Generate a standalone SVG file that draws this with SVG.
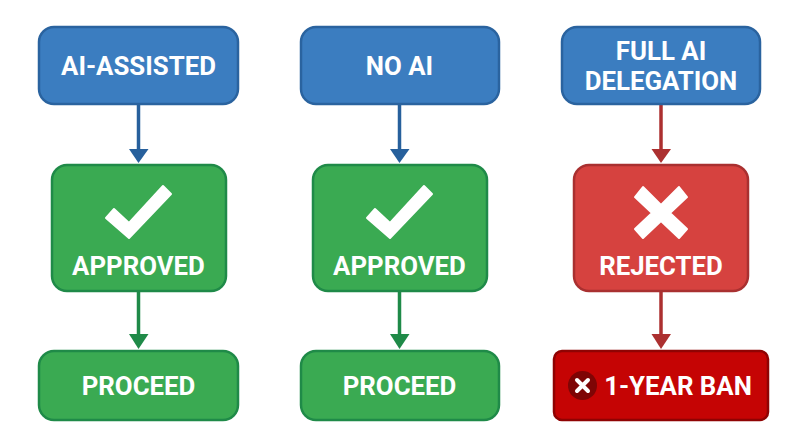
<svg xmlns="http://www.w3.org/2000/svg" width="800" height="447" viewBox="0 0 800 447">
<style>
.box{stroke-width:2.5}
.blue{fill:#3b7dc0;stroke:#2a639f}
.green{fill:#3aaa52;stroke:#1f8a48}
.red{fill:#d6423f;stroke:#a93030}
.ban{fill:#c50404;stroke:#8f0303}
text{font-family:Roboto,"Liberation Sans",sans-serif;font-weight:700;font-size:25.800px;fill:#fff;text-anchor:middle}
.ln{fill:none;stroke-width:3.500}
.mark{fill:#fff;stroke:#fff;stroke-width:2;stroke-linejoin:round}
</style>
<rect width="800" height="447" fill="#fff"/>
<g id="connectors">
<path class="ln" stroke="#27609c" d="M138.500 105V150"/><path fill="#27609c" d="M129 149H148.500L138.500 163Z"/>
<path class="ln" stroke="#1f8a48" d="M138.500 291V336"/><path fill="#1f8a48" d="M129 334H148.500L138.500 349Z"/>
<path class="ln" stroke="#27609c" d="M399.500 105V150"/><path fill="#27609c" d="M390 149H409.500L399.500 163Z"/>
<path class="ln" stroke="#1f8a48" d="M399.500 291V336"/><path fill="#1f8a48" d="M390 334H409.500L399.500 349Z"/>
<path class="ln" stroke="#ac3030" d="M661 105V150"/><path fill="#ac3030" d="M651.500 149H671L661 163Z"/>
<path class="ln" stroke="#ac3030" d="M661 291V336"/><path fill="#ac3030" d="M651.500 334H671L661 349Z"/>
</g>
<g id="n1"><rect class="box blue" x="39" y="27" width="199" height="77" rx="15"/><text x="138.500" y="74.500">AI-ASSISTED</text></g>
<g id="n2"><rect class="box green" x="52" y="165" width="174" height="126" rx="15"/><path class="mark" d="M106 218L114 209L129 223L163 186L171 194L129 238Z"/><text x="138.500" y="275">APPROVED</text></g>
<g id="n3"><rect class="box green" x="39" y="351" width="199" height="69" rx="15"/><text x="138.500" y="394.500">PROCEED</text></g>
<g id="n4"><rect class="box blue" x="301" y="27" width="198" height="77" rx="15"/><text x="399.500" y="74.500">NO AI</text></g>
<g id="n5"><rect class="box green" x="313" y="165" width="174" height="126" rx="15"/><path class="mark" d="M367 218L375 209L390 223L424 186L432 194L390 238Z"/><text x="399.500" y="275">APPROVED</text></g>
<g id="n6"><rect class="box green" x="301" y="351" width="198" height="69" rx="15"/><text x="399.500" y="394.500">PROCEED</text></g>
<g id="n7"><rect class="box blue" x="562" y="27" width="198" height="77" rx="15"/><text x="661" y="60">FULL AI</text><text x="661" y="90">DELEGATION</text></g>
<g id="n8"><rect class="box red" x="574" y="165" width="174" height="126" rx="15"/><path class="mark" d="M635 197L643 187L661 205L679 187L687 197L670 213L687 229L679 238L661 221L643 238L635 229L652 213Z"/><text x="661" y="275">REJECTED</text></g>
<g id="n9"><rect class="box ban" x="554" y="351" width="214" height="69" rx="8"/><circle cx="582.500" cy="385.500" r="14.500" fill="#7e0505"/><path stroke="#fff" stroke-width="4" stroke-linecap="round" d="M577 380L588 391M588 380L577 391"/><text x="678" y="394.500">1-YEAR BAN</text></g>
</svg>
